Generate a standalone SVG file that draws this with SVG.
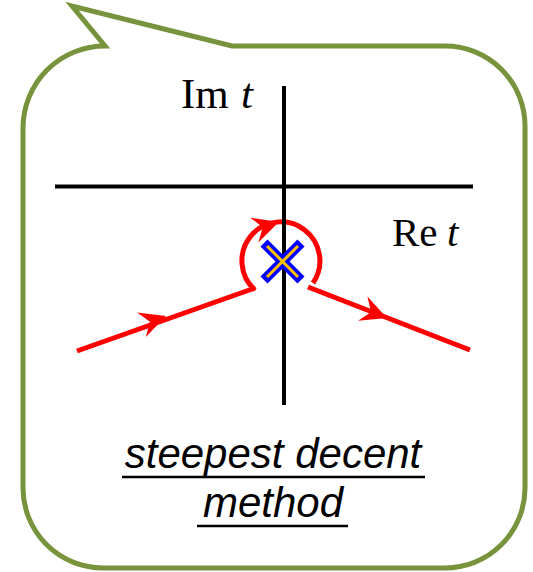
<svg xmlns="http://www.w3.org/2000/svg" width="533" height="572" viewBox="0 0 533 572">
  <style>
    .bubble { fill: #FFFFFF; stroke: #77933C; stroke-width: 5; stroke-linejoin: miter; }
    .axis { stroke: #000000; stroke-width: 4; fill: none; }
    .contour { stroke: #FF0000; stroke-width: 5; fill: none; }
    .arrow { fill: #FF0000; }
    .serif { font-family: "Liberation Serif", "DejaVu Serif", serif; fill: #000000; }
    .caption { font-family: "Liberation Sans", Arial, sans-serif; font-style: italic; font-size: 42px; fill: #000000; text-anchor: middle; }
    .uline { stroke: #000000; stroke-width: 2.5; }
  </style>
  <defs>
    <path id="head" d="M0,0 L-26,-13 L-17,0 L-26,13 Z"/>
  </defs>

  <g id="bubble">
    <path class="bubble" d="M232,46 L445,46 A80,80 0 0 1 525,126 L525,488 A80,80 0 0 1 445,568 L103,568 A80,80 0 0 1 23,488 L23,128 A82,82 0 0 1 105,46 L72,6 Z"/>
  </g>

  <g id="connectors">
    <path class="contour" d="M77,351 L255,288"/>
    <path class="contour" d="M308,287 L470,350"/>
    <path class="contour" d="M255,290 A39,39 0 1 1 313,283"/>
    <use href="#head" class="arrow" transform="translate(166,316) rotate(-19.5)"/>
    <use href="#head" class="arrow" transform="translate(387,318) rotate(21)"/>
    <use href="#head" class="arrow" transform="translate(279,222) rotate(-18)"/>
  </g>

  <g id="axes">
    <line class="axis" x1="55" y1="186.5" x2="473" y2="186.5"/>
    <line class="axis" x1="284" y1="86" x2="284" y2="405"/>
  </g>

  <g id="saddle">
    <line x1="264" y1="243" x2="301" y2="280" stroke="#0000FF" stroke-width="10"/>
    <line x1="301" y1="243" x2="264" y2="280" stroke="#0000FF" stroke-width="10"/>
    <line x1="267" y1="246" x2="298" y2="277" stroke="#FFC000" stroke-width="3"/>
    <line x1="298" y1="246" x2="267" y2="277" stroke="#FFC000" stroke-width="3"/>
  </g>

  <g id="label-im">
    <text class="serif" x="181" y="108" style="font-size:43px">Im<tspan x="241" font-style="italic">t</tspan></text>
  </g>
  <g id="label-re">
    <text class="serif" x="392" y="246" style="font-size:41px">Re<tspan x="447" font-style="italic">t</tspan></text>
  </g>

  <g id="caption">
    <text class="caption" x="273" y="468">steepest decent</text>
    <text class="caption" x="273" y="517">method</text>
    <line class="uline" x1="122" y1="477" x2="425" y2="477"/>
    <line class="uline" x1="197" y1="526" x2="348" y2="526"/>
  </g>
</svg>
